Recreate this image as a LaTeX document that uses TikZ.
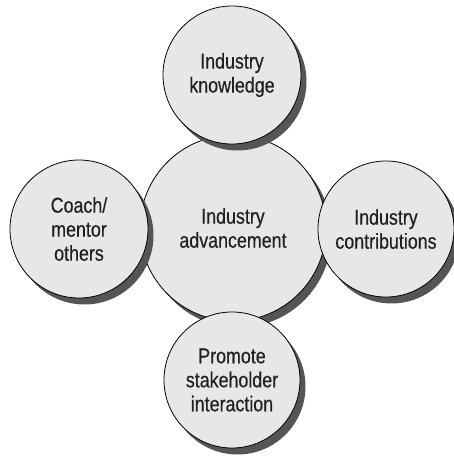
\documentclass[tikz,border=0pt]{standalone}
\usepackage{fontspec}
\setmainfont[FakeStretch=0.83,FakeBold=0.4]{Liberation Sans}
\usetikzlibrary{shadows}
\definecolor{bubblefill}{HTML}{E6E7E8}
\definecolor{shadowgray}{HTML}{555555}
\definecolor{textgray}{HTML}{231F20}
\begin{document}
\begin{tikzpicture}[x=1pt,y=1pt,
  bubble/.style={circle, draw=black, line width=0.8pt, fill=bubblefill,
    inner sep=0pt, align=center, text=textgray,
    font=\fontsize{21.5}{24}\selectfont,
    drop shadow={shadow xshift=5.5pt, shadow yshift=-6.5pt, fill=shadowgray, opacity=1}}]
\useasboundingbox (0,0) rectangle (454,458);
\node[bubble, minimum size=186pt] (center) at (233,230) {Industry\\advancement};
\node[bubble, minimum size=138pt] (top) at (232,383) {Industry\\knowledge};
\node[bubble, minimum size=138pt] (left) at (79,229) {Coach/\\mentor\\others};
\node[bubble, minimum size=136pt] (right) at (386,229) {Industry\\contributions};
\node[bubble, minimum size=136pt] (bottom) at (232,78) {Promote\\stakeholder\\interaction};
\end{tikzpicture}
\end{document}
